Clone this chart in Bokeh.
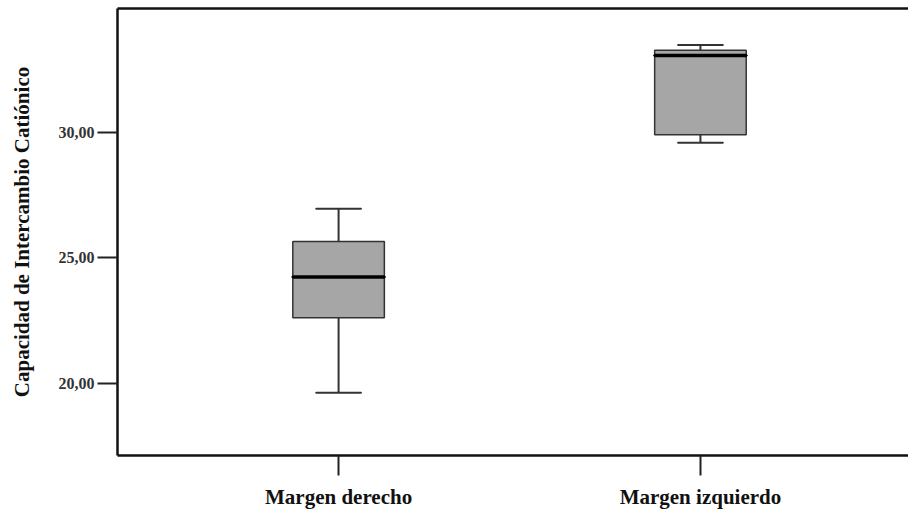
from bokeh.plotting import figure
from bokeh.models import FixedTicker, LinearAxis, Range1d
from bokeh.embed import file_html
from bokeh.resources import INLINE

# Data
categories = ["Margen derecho", "Margen izquierdo"]
positions = [1, 2]
lower_whisker = [19.63, 29.59]
q1 = [22.62, 29.91]
median = [24.24, 33.07]
q3 = [25.66, 33.28]
upper_whisker = [26.96, 33.49]
y_ticks = [20, 25, 30]
y_tick_labels = ["20,00", "25,00", "30,00"]

box_w = 0.253
cap_w = 0.125

p = figure(width=908, height=511, output_backend="svg", toolbar_location=None,
           x_range=Range1d(0.389, 2.575), y_range=Range1d(17.13, 34.94),
           min_border_left=117, min_border_right=0, min_border_top=8, min_border_bottom=56)
p.outline_line_color = None
p.grid.visible = False
p.background_fill_color = "white"
p.border_fill_color = "white"

font = "Liberation Serif"
for ax in (p.xaxis[0], p.yaxis[0]):
    ax.axis_line_color = "#111111"
    ax.axis_line_width = 2.5
    ax.major_tick_line_color = "#222222"
    ax.major_tick_line_width = 2
    ax.major_tick_out = 20
    ax.major_tick_in = 0
    ax.minor_tick_out = 0
    ax.minor_tick_in = 0
    ax.major_label_text_font = font
    ax.major_label_text_font_style = "bold"
    ax.axis_label_text_font = font
    ax.axis_label_text_font_style = "bold"

p.xaxis.ticker = FixedTicker(ticks=positions)
p.xaxis.major_label_overrides = {pos: c for pos, c in zip(positions, categories)}
p.xaxis.major_label_text_font_size = "21px"
p.xaxis.major_label_text_color = "#111111"
p.xaxis.major_label_standoff = 9

p.yaxis.ticker = FixedTicker(ticks=y_ticks)
p.yaxis.major_label_overrides = {t: l for t, l in zip(y_ticks, y_tick_labels)}
p.yaxis.major_label_text_font_size = "16px"
p.yaxis.major_label_text_color = "#333333"
p.yaxis.major_label_standoff = 3
p.yaxis.axis_label = "Capacidad de Intercambio Catiónico"
p.yaxis.axis_label_text_font_size = "21px"
p.yaxis.axis_label_text_color = "#111111"
p.yaxis.axis_label_standoff = 22

top_axis = LinearAxis(ticker=FixedTicker(ticks=[]), axis_line_color="#111111", axis_line_width=2.5,
                      major_tick_out=0, major_tick_in=0, minor_tick_out=0, minor_tick_in=0,
                      major_label_text_font_size="0px")
p.add_layout(top_axis, "above")

# whiskers
p.segment(x0=positions, y0=q3, x1=positions, y1=upper_whisker, line_color="#333333", line_width=2)
p.segment(x0=positions, y0=lower_whisker, x1=positions, y1=q1, line_color="#333333", line_width=2)
# caps
p.rect(x=positions, y=upper_whisker, width=cap_w, height=0.001, fill_color=None,
       line_color="#333333", line_width=2)
p.rect(x=positions, y=lower_whisker, width=cap_w, height=0.001, fill_color=None,
       line_color="#333333", line_width=2)
# boxes
p.vbar(x=positions, width=box_w, bottom=q1, top=q3, fill_color="#a6a6a6",
       line_color="#333333", line_width=1.5)
# medians
p.rect(x=positions, y=median, width=box_w, height=0.001, fill_color=None,
       line_color="#000000", line_width=3.5)

open("out.html", "w").write(file_html(p, INLINE))
